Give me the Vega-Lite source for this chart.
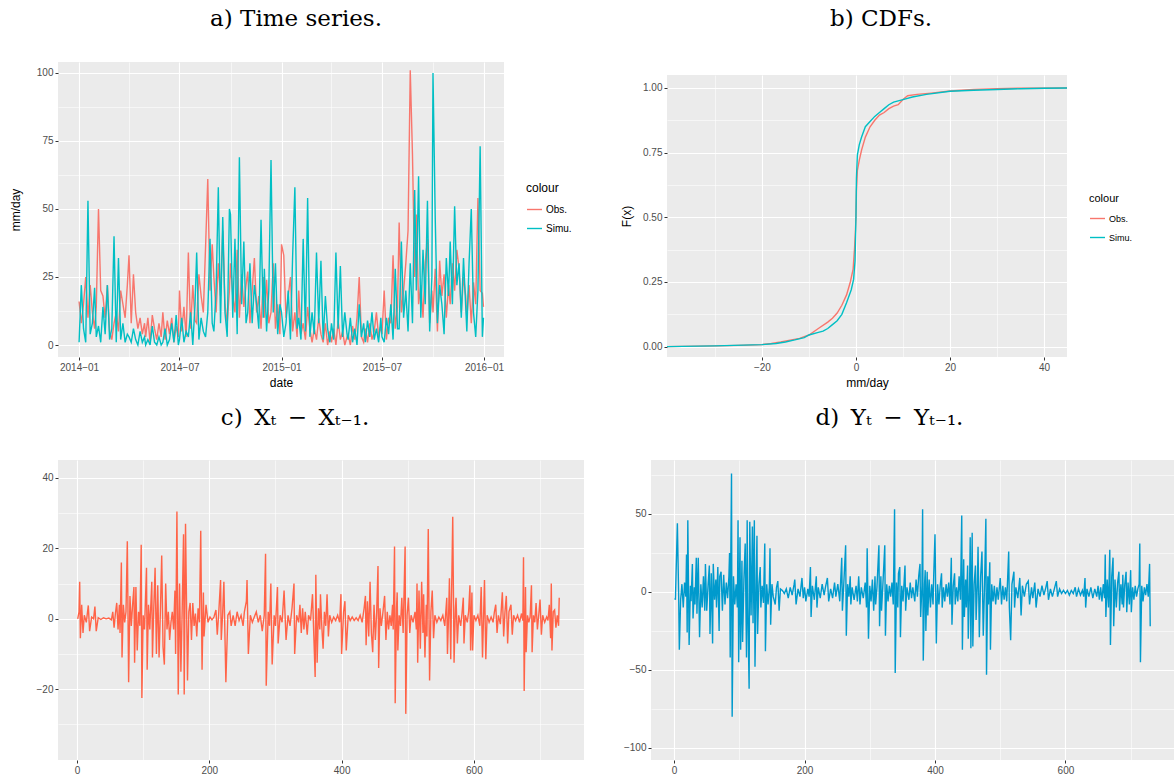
{
"$schema": "https://vega.github.io/schema/vega-lite/v6.json",
"background": "white",
"padding": {"left": 9, "top": 1, "right": 0, "bottom": 0},
"spacing": 19,
"config": {
  "view": {"fill": "#EBEBEB", "stroke": null},
  "axis": {"domain": false, "grid": true, "gridColor": "#FFFFFF", "tickColor": "#333333", "tickSize": 3, "tickWidth": 1,
    "labelColor": "#4D4D4D", "labelFont": "Liberation Sans", "labelFontSize": 10, "labelPadding": 2, "labelFlush": false, "labelOverlap": false,
    "titleFont": "Liberation Sans", "titleFontSize": 12, "titleFontWeight": "normal", "titleColor": "#000000"},
  "title": {"font": "DejaVu Serif", "fontSize": 23, "fontWeight": "normal", "color": "#000000", "anchor": "middle", "frame": "group"},
  "legend": {"titleFont": "Liberation Sans", "titleFontSize": 12, "titleFontWeight": "normal", "titleColor": "#000000",
    "labelFont": "Liberation Sans", "labelFontSize": 10, "labelColor": "#000000", "symbolType": "stroke", "symbolStrokeWidth": 1.5,
    "symbolSize": 225, "rowPadding": 5, "titlePadding": 6, "labelOffset": 3},
  "line": {"strokeWidth": 1.4}
},
"datasets": {
"spacer": [{"k": 0}],
"ts": [
{"d":"2014-01-01","Obs":16,"Simu":1},{"d":"2014-01-05","Obs":8,"Simu":22},{"d":"2014-01-09","Obs":15,"Simu":6},{"d":"2014-01-13","Obs":25,"Simu":1},{"d":"2014-01-17","Obs":10,"Simu":53},{"d":"2014-01-21","Obs":22,"Simu":4},{"d":"2014-01-25","Obs":12,"Simu":8},{"d":"2014-01-29","Obs":6,"Simu":21},
{"d":"2014-02-01","Obs":14,"Simu":3},{"d":"2014-02-05","Obs":50,"Simu":7},{"d":"2014-02-09","Obs":20,"Simu":1},{"d":"2014-02-13","Obs":18,"Simu":14},{"d":"2014-02-17","Obs":10,"Simu":4},{"d":"2014-02-21","Obs":22,"Simu":22},{"d":"2014-02-25","Obs":5,"Simu":2},
{"d":"2014-03-01","Obs":2,"Simu":6},{"d":"2014-03-05","Obs":8,"Simu":40},{"d":"2014-03-09","Obs":12,"Simu":1},{"d":"2014-03-13","Obs":5,"Simu":32},{"d":"2014-03-17","Obs":20,"Simu":2},{"d":"2014-03-21","Obs":15,"Simu":8},{"d":"2014-03-25","Obs":10,"Simu":1},{"d":"2014-03-29","Obs":22,"Simu":4},
{"d":"2014-04-01","Obs":33,"Simu":3},{"d":"2014-04-05","Obs":8,"Simu":1},{"d":"2014-04-09","Obs":26,"Simu":6},{"d":"2014-04-13","Obs":12,"Simu":2},{"d":"2014-04-17","Obs":6,"Simu":0},{"d":"2014-04-21","Obs":10,"Simu":5},{"d":"2014-04-25","Obs":4,"Simu":1},{"d":"2014-04-29","Obs":8,"Simu":3},
{"d":"2014-05-01","Obs":3,"Simu":0},{"d":"2014-05-05","Obs":10,"Simu":2},{"d":"2014-05-09","Obs":1,"Simu":0},{"d":"2014-05-13","Obs":11,"Simu":7},{"d":"2014-05-17","Obs":6,"Simu":1},{"d":"2014-05-21","Obs":2,"Simu":0},{"d":"2014-05-25","Obs":8,"Simu":3},{"d":"2014-05-29","Obs":3,"Simu":0},
{"d":"2014-06-01","Obs":12,"Simu":1},{"d":"2014-06-05","Obs":2,"Simu":6},{"d":"2014-06-09","Obs":9,"Simu":0},{"d":"2014-06-13","Obs":4,"Simu":2},{"d":"2014-06-17","Obs":10,"Simu":8},{"d":"2014-06-21","Obs":1,"Simu":1},{"d":"2014-06-25","Obs":7,"Simu":11},{"d":"2014-06-29","Obs":3,"Simu":0},
{"d":"2014-07-01","Obs":20,"Simu":2},{"d":"2014-07-05","Obs":5,"Simu":10},{"d":"2014-07-09","Obs":14,"Simu":1},{"d":"2014-07-13","Obs":3,"Simu":5},{"d":"2014-07-17","Obs":34,"Simu":3},{"d":"2014-07-21","Obs":6,"Simu":12},{"d":"2014-07-25","Obs":22,"Simu":0},{"d":"2014-07-29","Obs":9,"Simu":15},
{"d":"2014-08-01","Obs":8,"Simu":34},{"d":"2014-08-05","Obs":26,"Simu":2},{"d":"2014-08-09","Obs":18,"Simu":10},{"d":"2014-08-13","Obs":12,"Simu":5},{"d":"2014-08-17","Obs":36,"Simu":3},{"d":"2014-08-21","Obs":61,"Simu":12},{"d":"2014-08-25","Obs":20,"Simu":39},{"d":"2014-08-29","Obs":37,"Simu":8},
{"d":"2014-09-01","Obs":25,"Simu":5},{"d":"2014-09-05","Obs":12,"Simu":20},{"d":"2014-09-09","Obs":30,"Simu":58},{"d":"2014-09-13","Obs":18,"Simu":8},{"d":"2014-09-17","Obs":42,"Simu":47},{"d":"2014-09-21","Obs":15,"Simu":12},{"d":"2014-09-25","Obs":8,"Simu":3},{"d":"2014-09-29","Obs":20,"Simu":50},
{"d":"2014-10-01","Obs":30,"Simu":48},{"d":"2014-10-05","Obs":18,"Simu":10},{"d":"2014-10-09","Obs":12,"Simu":39},{"d":"2014-10-13","Obs":35,"Simu":4},{"d":"2014-10-17","Obs":10,"Simu":69},{"d":"2014-10-21","Obs":26,"Simu":15},{"d":"2014-10-25","Obs":14,"Simu":38},{"d":"2014-10-29","Obs":22,"Simu":8},
{"d":"2014-11-01","Obs":27,"Simu":12},{"d":"2014-11-05","Obs":8,"Simu":30},{"d":"2014-11-09","Obs":20,"Simu":8},{"d":"2014-11-13","Obs":32,"Simu":22},{"d":"2014-11-17","Obs":12,"Simu":15},{"d":"2014-11-21","Obs":18,"Simu":6},{"d":"2014-11-25","Obs":6,"Simu":46},{"d":"2014-11-29","Obs":25,"Simu":10},
{"d":"2014-12-01","Obs":10,"Simu":28},{"d":"2014-12-05","Obs":24,"Simu":5},{"d":"2014-12-09","Obs":8,"Simu":20},{"d":"2014-12-13","Obs":12,"Simu":68},{"d":"2014-12-17","Obs":30,"Simu":12},{"d":"2014-12-21","Obs":6,"Simu":30},{"d":"2014-12-25","Obs":15,"Simu":4},{"d":"2014-12-29","Obs":4,"Simu":15},
{"d":"2015-01-01","Obs":37,"Simu":12},{"d":"2015-01-05","Obs":33,"Simu":3},{"d":"2015-01-09","Obs":10,"Simu":8},{"d":"2015-01-13","Obs":18,"Simu":20},{"d":"2015-01-17","Obs":25,"Simu":2},{"d":"2015-01-21","Obs":5,"Simu":33},{"d":"2015-01-25","Obs":12,"Simu":58},{"d":"2015-01-29","Obs":3,"Simu":6},
{"d":"2015-02-01","Obs":20,"Simu":10},{"d":"2015-02-05","Obs":4,"Simu":2},{"d":"2015-02-09","Obs":8,"Simu":39},{"d":"2015-02-13","Obs":2,"Simu":5},{"d":"2015-02-17","Obs":14,"Simu":54},{"d":"2015-02-21","Obs":6,"Simu":3},{"d":"2015-02-25","Obs":1,"Simu":12},
{"d":"2015-03-01","Obs":6,"Simu":4},{"d":"2015-03-05","Obs":2,"Simu":34},{"d":"2015-03-09","Obs":10,"Simu":8},{"d":"2015-03-13","Obs":4,"Simu":31},{"d":"2015-03-17","Obs":1,"Simu":2},{"d":"2015-03-21","Obs":8,"Simu":18},{"d":"2015-03-25","Obs":0,"Simu":6},{"d":"2015-03-29","Obs":5,"Simu":1},
{"d":"2015-04-01","Obs":1,"Simu":8},{"d":"2015-04-05","Obs":6,"Simu":2},{"d":"2015-04-09","Obs":0,"Simu":34},{"d":"2015-04-13","Obs":9,"Simu":6},{"d":"2015-04-17","Obs":2,"Simu":29},{"d":"2015-04-21","Obs":5,"Simu":3},{"d":"2015-04-25","Obs":0,"Simu":12},{"d":"2015-04-29","Obs":3,"Simu":4},
{"d":"2015-05-01","Obs":4,"Simu":2},{"d":"2015-05-05","Obs":0,"Simu":10},{"d":"2015-05-09","Obs":7,"Simu":1},{"d":"2015-05-13","Obs":2,"Simu":6},{"d":"2015-05-17","Obs":10,"Simu":0},{"d":"2015-05-21","Obs":25,"Simu":15},{"d":"2015-05-25","Obs":3,"Simu":3},{"d":"2015-05-29","Obs":1,"Simu":8},
{"d":"2015-06-01","Obs":6,"Simu":1},{"d":"2015-06-05","Obs":1,"Simu":9},{"d":"2015-06-09","Obs":8,"Simu":3},{"d":"2015-06-13","Obs":2,"Simu":12},{"d":"2015-06-17","Obs":5,"Simu":2},{"d":"2015-06-21","Obs":12,"Simu":6},{"d":"2015-06-25","Obs":3,"Simu":1},{"d":"2015-06-29","Obs":7,"Simu":10},
{"d":"2015-07-01","Obs":4,"Simu":3},{"d":"2015-07-05","Obs":20,"Simu":1},{"d":"2015-07-09","Obs":2,"Simu":10},{"d":"2015-07-13","Obs":10,"Simu":4},{"d":"2015-07-17","Obs":8,"Simu":15},{"d":"2015-07-21","Obs":33,"Simu":2},{"d":"2015-07-25","Obs":6,"Simu":28},{"d":"2015-07-29","Obs":14,"Simu":6},
{"d":"2015-08-01","Obs":45,"Simu":6},{"d":"2015-08-05","Obs":12,"Simu":38},{"d":"2015-08-09","Obs":20,"Simu":10},{"d":"2015-08-13","Obs":30,"Simu":20},{"d":"2015-08-17","Obs":42,"Simu":5},{"d":"2015-08-21","Obs":101,"Simu":30},{"d":"2015-08-25","Obs":70,"Simu":8},{"d":"2015-08-29","Obs":25,"Simu":57},
{"d":"2015-09-01","Obs":48,"Simu":20},{"d":"2015-09-05","Obs":15,"Simu":62},{"d":"2015-09-09","Obs":22,"Simu":10},{"d":"2015-09-13","Obs":10,"Simu":35},{"d":"2015-09-17","Obs":30,"Simu":15},{"d":"2015-09-21","Obs":39,"Simu":53},{"d":"2015-09-25","Obs":8,"Simu":5},{"d":"2015-09-29","Obs":20,"Simu":25},
{"d":"2015-10-01","Obs":12,"Simu":100},{"d":"2015-10-05","Obs":28,"Simu":47},{"d":"2015-10-09","Obs":5,"Simu":8},{"d":"2015-10-13","Obs":31,"Simu":22},{"d":"2015-10-17","Obs":18,"Simu":15},{"d":"2015-10-21","Obs":26,"Simu":4},{"d":"2015-10-25","Obs":10,"Simu":32},{"d":"2015-10-29","Obs":22,"Simu":18},
{"d":"2015-11-01","Obs":15,"Simu":38},{"d":"2015-11-05","Obs":30,"Simu":15},{"d":"2015-11-09","Obs":20,"Simu":51},{"d":"2015-11-13","Obs":35,"Simu":22},{"d":"2015-11-17","Obs":28,"Simu":30},{"d":"2015-11-21","Obs":12,"Simu":10},{"d":"2015-11-25","Obs":25,"Simu":32},{"d":"2015-11-29","Obs":18,"Simu":14},
{"d":"2015-12-01","Obs":10,"Simu":5},{"d":"2015-12-05","Obs":22,"Simu":30},{"d":"2015-12-09","Obs":8,"Simu":50},{"d":"2015-12-13","Obs":23,"Simu":12},{"d":"2015-12-17","Obs":15,"Simu":3},{"d":"2015-12-21","Obs":54,"Simu":20},{"d":"2015-12-25","Obs":20,"Simu":73},{"d":"2015-12-29","Obs":19,"Simu":3},{"d":"2015-12-31","Obs":14,"Simu":10}
],
"cdf": [
{"colour":"Obs","x":-40.2,"F":0},{"colour":"Obs","x":-30,"F":0.003},{"colour":"Obs","x":-25,"F":0.005},{"colour":"Obs","x":-20,"F":0.008},{"colour":"Obs","x":-18,"F":0.012},{"colour":"Obs","x":-16,"F":0.018},{"colour":"Obs","x":-14,"F":0.025},{"colour":"Obs","x":-12,"F":0.032},{"colour":"Obs","x":-10,"F":0.045},{"colour":"Obs","x":-8,"F":0.07},{"colour":"Obs","x":-6,"F":0.095},{"colour":"Obs","x":-5,"F":0.11},{"colour":"Obs","x":-4,"F":0.13},{"colour":"Obs","x":-3,"F":0.16},{"colour":"Obs","x":-2,"F":0.2},{"colour":"Obs","x":-1.2,"F":0.25},{"colour":"Obs","x":-0.6,"F":0.3},{"colour":"Obs","x":-0.3,"F":0.38},{"colour":"Obs","x":-0.1,"F":0.45},{"colour":"Obs","x":0,"F":0.5},{"colour":"Obs","x":0.1,"F":0.6},{"colour":"Obs","x":0.3,"F":0.68},{"colour":"Obs","x":0.7,"F":0.72},{"colour":"Obs","x":1.2,"F":0.76},{"colour":"Obs","x":2,"F":0.81},{"colour":"Obs","x":3,"F":0.85},{"colour":"Obs","x":4,"F":0.875},{"colour":"Obs","x":5,"F":0.895},{"colour":"Obs","x":6,"F":0.905},{"colour":"Obs","x":7,"F":0.92},{"colour":"Obs","x":8,"F":0.93},{"colour":"Obs","x":9,"F":0.935},{"colour":"Obs","x":10,"F":0.955},{"colour":"Obs","x":11,"F":0.97},{"colour":"Obs","x":13,"F":0.975},{"colour":"Obs","x":16,"F":0.98},{"colour":"Obs","x":20,"F":0.988},{"colour":"Obs","x":25,"F":0.994},{"colour":"Obs","x":30,"F":0.997},{"colour":"Obs","x":35,"F":0.999},{"colour":"Obs","x":44.9,"F":1},
{"colour":"Simu","x":-40.2,"F":0},{"colour":"Simu","x":-30,"F":0.003},{"colour":"Simu","x":-20,"F":0.008},{"colour":"Simu","x":-17,"F":0.012},{"colour":"Simu","x":-15,"F":0.018},{"colour":"Simu","x":-13,"F":0.026},{"colour":"Simu","x":-11,"F":0.035},{"colour":"Simu","x":-10,"F":0.045},{"colour":"Simu","x":-8,"F":0.055},{"colour":"Simu","x":-7,"F":0.06},{"colour":"Simu","x":-6,"F":0.07},{"colour":"Simu","x":-5,"F":0.085},{"colour":"Simu","x":-4,"F":0.1},{"colour":"Simu","x":-3,"F":0.125},{"colour":"Simu","x":-2,"F":0.17},{"colour":"Simu","x":-1,"F":0.22},{"colour":"Simu","x":-0.5,"F":0.26},{"colour":"Simu","x":-0.2,"F":0.33},{"colour":"Simu","x":0,"F":0.5},{"colour":"Simu","x":0.1,"F":0.65},{"colour":"Simu","x":0.3,"F":0.74},{"colour":"Simu","x":0.7,"F":0.78},{"colour":"Simu","x":1.2,"F":0.81},{"colour":"Simu","x":2,"F":0.85},{"colour":"Simu","x":3,"F":0.87},{"colour":"Simu","x":4,"F":0.89},{"colour":"Simu","x":5,"F":0.905},{"colour":"Simu","x":6,"F":0.92},{"colour":"Simu","x":7,"F":0.935},{"colour":"Simu","x":8,"F":0.945},{"colour":"Simu","x":10,"F":0.955},{"colour":"Simu","x":12,"F":0.965},{"colour":"Simu","x":15,"F":0.975},{"colour":"Simu","x":20,"F":0.987},{"colour":"Simu","x":25,"F":0.991},{"colour":"Simu","x":30,"F":0.994},{"colour":"Simu","x":35,"F":0.997},{"colour":"Simu","x":40,"F":0.999},{"colour":"Simu","x":44.9,"F":1}
],
"dx": [
{"i":1,"v":0},{"i":3,"v":2},{"i":4,"v":10.5},{"i":5,"v":-5.5},{"i":7,"v":4},{"i":9,"v":-4},{"i":11,"v":1},{"i":14,"v":-1},{"i":17,"v":3.8},{"i":19,"v":-3.5},{"i":22,"v":0.5},{"i":25,"v":0},{"i":27,"v":3.5},{"i":29,"v":-3.5},{"i":32,"v":0.3},{"i":36,"v":-0.2},{"i":40,"v":0.3},{"i":44,"v":0},{"i":48,"v":0.2},{"i":52,"v":-0.3},{"i":54,"v":2},{"i":56,"v":-2.5},{"i":58,"v":1.5},{"i":60,"v":4.5},{"i":62,"v":-3},{"i":64,"v":4},{"i":65,"v":-4},{"i":67,"v":16},{"i":68,"v":-11},{"i":70,"v":4},{"i":72,"v":-1},{"i":74,"v":2},{"i":76,"v":22},{"i":78,"v":-18},{"i":80,"v":6.5},{"i":82,"v":-2},{"i":84,"v":4},{"i":86,"v":9},{"i":87,"v":-12.5},{"i":89,"v":9},{"i":91,"v":-9},{"i":93,"v":2},{"i":95,"v":-2},{"i":97,"v":21},{"i":98,"v":-22.5},{"i":100,"v":1},{"i":102,"v":-3},{"i":105,"v":14.5},{"i":106,"v":-14.5},{"i":108,"v":4},{"i":110,"v":-3},{"i":113,"v":10.5},{"i":114,"v":-11},{"i":116,"v":3},{"i":118,"v":14.5},{"i":120,"v":-10},{"i":122,"v":9.5},{"i":124,"v":-11},{"i":126,"v":2},{"i":128,"v":18},{"i":130,"v":-8},{"i":132,"v":-13},{"i":134,"v":10},{"i":136,"v":-3},{"i":138,"v":2},{"i":140,"v":-6},{"i":142,"v":-1},{"i":144,"v":2},{"i":146,"v":-3},{"i":148,"v":8},{"i":149,"v":-10},{"i":151,"v":30.5},{"i":153,"v":-21.5},{"i":155,"v":10},{"i":157,"v":-15},{"i":159,"v":3},{"i":161,"v":24},{"i":162,"v":-21.5},{"i":164,"v":27},{"i":167,"v":-17.5},{"i":169,"v":2},{"i":171,"v":4.5},{"i":173,"v":-6},{"i":175,"v":4.5},{"i":177,"v":-2},{"i":179,"v":1.5},{"i":181,"v":-5},{"i":183,"v":3},{"i":185,"v":-1},{"i":187,"v":25},{"i":189,"v":-14.5},{"i":191,"v":7.5},{"i":192,"v":-5},{"i":195,"v":4},{"i":198,"v":-1},
{"i":201,"v":0.5},{"i":204,"v":-0.3},{"i":207,"v":0.5},{"i":210,"v":2.5},{"i":212,"v":-4.5},{"i":214,"v":1},{"i":217,"v":11},{"i":218,"v":-6},{"i":220,"v":1},{"i":222,"v":10.5},{"i":225,"v":-18},{"i":228,"v":1},{"i":231,"v":2},{"i":233,"v":-2},{"i":236,"v":1},{"i":239,"v":-2},{"i":242,"v":2},{"i":245,"v":-0.5},{"i":248,"v":1},{"i":251,"v":-2},{"i":253,"v":2},{"i":256,"v":5},{"i":257,"v":11},{"i":259,"v":-10},{"i":262,"v":1},{"i":265,"v":-1},{"i":268,"v":0.5},{"i":271,"v":2},{"i":274,"v":-1},{"i":277,"v":1},{"i":280,"v":-3.5},{"i":283,"v":1},{"i":285,"v":18.5},{"i":286,"v":-19},{"i":289,"v":2},{"i":291,"v":-2},{"i":293,"v":10},{"i":295,"v":-13},{"i":298,"v":1},{"i":300,"v":-2},{"i":303,"v":9},{"i":304,"v":-7},{"i":307,"v":1},{"i":310,"v":-1},{"i":313,"v":8},{"i":316,"v":-6},{"i":319,"v":1},{"i":322,"v":-2},{"i":325,"v":3},{"i":328,"v":10},{"i":329,"v":-10},{"i":332,"v":1},{"i":335,"v":-1},{"i":337,"v":4},{"i":339,"v":-4},{"i":341,"v":3},{"i":343,"v":-3},{"i":345,"v":2},{"i":348,"v":-4.5},{"i":350,"v":1},{"i":353,"v":-0.5},{"i":356,"v":7},{"i":358,"v":-5},{"i":360,"v":-16.5},{"i":361,"v":12.5},{"i":363,"v":-12.5},{"i":365,"v":3},{"i":367,"v":-3},{"i":368,"v":7},{"i":370,"v":-2},{"i":372,"v":-8.5},{"i":374,"v":2},{"i":376,"v":-2},{"i":378,"v":7},{"i":380,"v":-5},{"i":382,"v":1},{"i":385,"v":-1},{"i":388,"v":0.5},{"i":391,"v":-0.5},{"i":394,"v":1},{"i":397,"v":-1},{"i":399,"v":7},{"i":400,"v":-10},
{"i":403,"v":2},{"i":405,"v":5},{"i":407,"v":-9},{"i":410,"v":1},{"i":413,"v":-0.5},{"i":416,"v":0.5},{"i":419,"v":-0.5},{"i":422,"v":0.3},{"i":425,"v":-0.5},{"i":428,"v":1},{"i":431,"v":-1},{"i":434,"v":3},{"i":436,"v":6.5},{"i":437,"v":-7.5},{"i":439,"v":5},{"i":441,"v":-5},{"i":443,"v":10.5},{"i":445,"v":-4},{"i":447,"v":-9.5},{"i":449,"v":4},{"i":451,"v":-6},{"i":453,"v":2},{"i":455,"v":15},{"i":456,"v":-14},{"i":458,"v":3},{"i":460,"v":-2},{"i":462,"v":1},{"i":465,"v":6.5},{"i":467,"v":-6},{"i":469,"v":2},{"i":471,"v":-3},{"i":473,"v":1},{"i":475,"v":-2},{"i":477,"v":4},{"i":478,"v":-3},{"i":480,"v":20.5},{"i":481,"v":-24},{"i":483,"v":3},{"i":484,"v":7.5},{"i":485,"v":-9},{"i":487,"v":1},{"i":489,"v":-2},{"i":491,"v":6},{"i":493,"v":-4},{"i":496,"v":20.5},{"i":497,"v":-27},{"i":499,"v":1},{"i":501,"v":6},{"i":503,"v":-4},{"i":505,"v":1},{"i":508,"v":-1},{"i":511,"v":2},{"i":513,"v":-3},{"i":514,"v":10},{"i":515,"v":-12.5},{"i":517,"v":8},{"i":519,"v":-8.5},{"i":521,"v":10.5},{"i":523,"v":-4},{"i":524,"v":7},{"i":526,"v":-11},{"i":528,"v":4},{"i":529,"v":-5},{"i":531,"v":25.5},{"i":533,"v":-17.5},{"i":535,"v":2},{"i":537,"v":8},{"i":539,"v":-5.5},{"i":541,"v":1},{"i":544,"v":-1},{"i":547,"v":0.5},{"i":550,"v":-0.5},{"i":553,"v":1},{"i":556,"v":-2},{"i":559,"v":6},{"i":560,"v":-10},{"i":562,"v":3},{"i":563,"v":11.5},{"i":565,"v":-11.5},{"i":566,"v":4},{"i":568,"v":29},{"i":570,"v":-12.5},{"i":572,"v":3},{"i":573,"v":6},{"i":575,"v":-7},{"i":577,"v":1},{"i":580,"v":-2},{"i":582,"v":1.5},{"i":584,"v":6},{"i":585,"v":-7},{"i":587,"v":1},{"i":590,"v":-1},{"i":592,"v":2},{"i":594,"v":9.5},{"i":595,"v":-9},{"i":597,"v":7.5},{"i":598,"v":-9},
{"i":600,"v":1},{"i":603,"v":-0.5},{"i":606,"v":1},{"i":609,"v":-2},{"i":611,"v":9},{"i":613,"v":-11},{"i":616,"v":11},{"i":618,"v":-11.5},{"i":620,"v":1},{"i":623,"v":-1},{"i":626,"v":0.5},{"i":629,"v":-1},{"i":631,"v":2},{"i":633,"v":4},{"i":635,"v":-4},{"i":637,"v":1},{"i":640,"v":-1.5},{"i":643,"v":7.5},{"i":645,"v":-5},{"i":647,"v":2},{"i":649,"v":6.5},{"i":651,"v":-7},{"i":653,"v":2},{"i":656,"v":4},{"i":658,"v":-4.5},{"i":660,"v":1},{"i":663,"v":-0.5},{"i":666,"v":1},{"i":669,"v":-1},{"i":672,"v":1.5},{"i":674,"v":-0.5},{"i":675,"v":17.5},{"i":676,"v":-20.5},{"i":678,"v":9},{"i":679,"v":-9.5},{"i":681,"v":1},{"i":683,"v":-1},{"i":685,"v":0.5},{"i":687,"v":9.5},{"i":688,"v":-9.5},{"i":690,"v":1},{"i":692,"v":-1},{"i":694,"v":4.5},{"i":696,"v":-3},{"i":698,"v":1},{"i":700,"v":5.5},{"i":702,"v":-4.5},{"i":704,"v":1},{"i":707,"v":-1},{"i":710,"v":0.5},{"i":712,"v":-0.5},{"i":714,"v":4},{"i":716,"v":-5.5},{"i":717,"v":10},{"i":718,"v":-9},{"i":720,"v":2},{"i":722,"v":2.5},{"i":724,"v":-2.5},{"i":726,"v":1},{"i":728,"v":-2},{"i":729,"v":6}
],
"dy": [
{"i":1,"v":-4},{"i":2,"v":-5},{"i":3,"v":12},{"i":5,"v":44},{"i":7,"v":-3},{"i":8,"v":-37},{"i":10,"v":-5},{"i":12,"v":5},{"i":14,"v":-10},{"i":16,"v":6},{"i":18,"v":-3},{"i":19,"v":24},{"i":20,"v":-26},{"i":21,"v":46},{"i":23,"v":-34},{"i":25,"v":4},{"i":26,"v":-6},{"i":28,"v":18},{"i":29,"v":-17},{"i":31,"v":3},{"i":32,"v":-8},{"i":34,"v":22},{"i":35,"v":-14},{"i":37,"v":22},{"i":39,"v":-29},{"i":41,"v":5},{"i":43,"v":-10},{"i":45,"v":10},{"i":47,"v":-12},{"i":48,"v":18},{"i":50,"v":-12},{"i":52,"v":4},{"i":54,"v":17},{"i":55,"v":-27},{"i":57,"v":12},{"i":59,"v":-33},{"i":60,"v":18},{"i":62,"v":-5},{"i":64,"v":8},{"i":65,"v":-10},{"i":67,"v":16},{"i":69,"v":-25},{"i":70,"v":10},{"i":72,"v":13},{"i":74,"v":-12},{"i":76,"v":11},{"i":78,"v":-8},{"i":80,"v":6},{"i":82,"v":-4},{"i":84,"v":10},{"i":85,"v":25},{"i":86,"v":-42},{"i":87,"v":27},{"i":88,"v":76},{"i":89,"v":-80},{"i":91,"v":10},{"i":93,"v":-8},{"i":95,"v":5},{"i":97,"v":-10},{"i":98,"v":46},{"i":99,"v":-45},{"i":101,"v":35},{"i":102,"v":-37},{"i":104,"v":20},{"i":105,"v":-32},{"i":107,"v":8},{"i":109,"v":31},{"i":111,"v":-42},{"i":112,"v":46},{"i":113,"v":-10},{"i":115,"v":-62},{"i":116,"v":45},{"i":118,"v":-15},{"i":120,"v":42},{"i":121,"v":-20},{"i":122,"v":15},{"i":123,"v":46},{"i":124,"v":-48},{"i":126,"v":10},{"i":127,"v":36},{"i":128,"v":-27},{"i":130,"v":5},{"i":132,"v":16},{"i":133,"v":-10},{"i":135,"v":4},{"i":137,"v":-7},{"i":139,"v":31},{"i":140,"v":-38},{"i":142,"v":5},{"i":144,"v":-8},{"i":146,"v":3},{"i":147,"v":28},{"i":148,"v":-21},{"i":150,"v":5},{"i":152,"v":-3},{"i":155,"v":-8},{"i":157,"v":3},{"i":159,"v":7},{"i":161,"v":-12},{"i":163,"v":2},{"i":166,"v":1},{"i":169,"v":-1},{"i":172,"v":2},{"i":175,"v":-4},{"i":178,"v":3},{"i":181,"v":-2},{"i":184,"v":5},{"i":185,"v":8},{"i":187,"v":-8},{"i":190,"v":2},{"i":193,"v":-3},{"i":196,"v":9},{"i":198,"v":-4},
{"i":200,"v":3},{"i":202,"v":-6},{"i":205,"v":2},{"i":207,"v":-3},{"i":209,"v":16},{"i":210,"v":-16},{"i":212,"v":4},{"i":215,"v":-5},{"i":218,"v":10},{"i":219,"v":-10},{"i":221,"v":3},{"i":224,"v":-4},{"i":227,"v":5},{"i":230,"v":-2},{"i":232,"v":3},{"i":235,"v":9},{"i":237,"v":-6},{"i":240,"v":2},{"i":243,"v":-4},{"i":246,"v":6},{"i":248,"v":-3},{"i":251,"v":5},{"i":254,"v":-6},{"i":257,"v":22},{"i":258,"v":-12},{"i":260,"v":4},{"i":263,"v":30},{"i":264,"v":-28},{"i":266,"v":5},{"i":268,"v":-3},{"i":270,"v":10},{"i":271,"v":-8},{"i":273,"v":3},{"i":276,"v":-5},{"i":279,"v":4},{"i":281,"v":-6},{"i":283,"v":10},{"i":285,"v":-8},{"i":287,"v":3},{"i":290,"v":-4},{"i":293,"v":6},{"i":295,"v":-10},{"i":296,"v":28},{"i":298,"v":-30},{"i":300,"v":4},{"i":302,"v":-6},{"i":304,"v":8},{"i":306,"v":-12},{"i":308,"v":10},{"i":309,"v":-8},{"i":311,"v":3},{"i":314,"v":30},{"i":315,"v":-22},{"i":317,"v":10},{"i":318,"v":-12},{"i":320,"v":4},{"i":323,"v":30},{"i":324,"v":-28},{"i":326,"v":5},{"i":328,"v":-6},{"i":330,"v":4},{"i":332,"v":-3},{"i":334,"v":6},{"i":336,"v":-8},{"i":338,"v":53},{"i":339,"v":-52},{"i":341,"v":6},{"i":343,"v":-10},{"i":344,"v":12},{"i":346,"v":16},{"i":347,"v":-29},{"i":349,"v":4},{"i":351,"v":-6},{"i":354,"v":17},{"i":355,"v":-12},{"i":357,"v":3},{"i":360,"v":-5},{"i":362,"v":6},{"i":364,"v":-4},{"i":366,"v":3},{"i":369,"v":-6},{"i":371,"v":8},{"i":373,"v":-3},{"i":375,"v":10},{"i":377,"v":18},{"i":378,"v":-16},{"i":380,"v":4},{"i":381,"v":53},{"i":382,"v":-44},{"i":384,"v":5},{"i":385,"v":14},{"i":386,"v":-25},{"i":388,"v":13},{"i":389,"v":-15},{"i":391,"v":8},{"i":393,"v":-10},{"i":395,"v":5},{"i":397,"v":-8},{"i":398,"v":10},
{"i":400,"v":37},{"i":402,"v":-33},{"i":404,"v":5},{"i":406,"v":-8},{"i":408,"v":4},{"i":410,"v":12},{"i":411,"v":-10},{"i":413,"v":3},{"i":415,"v":-6},{"i":417,"v":5},{"i":419,"v":-3},{"i":421,"v":6},{"i":423,"v":-8},{"i":425,"v":22},{"i":426,"v":-21},{"i":428,"v":4},{"i":430,"v":12},{"i":431,"v":-8},{"i":433,"v":3},{"i":435,"v":-6},{"i":437,"v":10},{"i":439,"v":-5},{"i":441,"v":49},{"i":442,"v":-37},{"i":444,"v":21},{"i":445,"v":-16},{"i":447,"v":8},{"i":448,"v":-10},{"i":450,"v":17},{"i":451,"v":-30},{"i":453,"v":5},{"i":454,"v":35},{"i":455,"v":-36},{"i":457,"v":38},{"i":458,"v":-35},{"i":460,"v":5},{"i":462,"v":17},{"i":463,"v":-18},{"i":465,"v":6},{"i":466,"v":29},{"i":468,"v":-29},{"i":470,"v":10},{"i":472,"v":26},{"i":474,"v":-28},{"i":476,"v":5},{"i":478,"v":47},{"i":479,"v":-53},{"i":481,"v":10},{"i":482,"v":-8},{"i":484,"v":19},{"i":485,"v":-37},{"i":487,"v":5},{"i":489,"v":-6},{"i":491,"v":4},{"i":493,"v":-8},{"i":495,"v":3},{"i":497,"v":-5},{"i":500,"v":9},{"i":502,"v":-8},{"i":504,"v":4},{"i":506,"v":-5},{"i":508,"v":3},{"i":510,"v":-6},{"i":513,"v":26},{"i":514,"v":-10},{"i":516,"v":-31},{"i":518,"v":5},{"i":521,"v":13},{"i":522,"v":-10},{"i":524,"v":3},{"i":527,"v":-4},{"i":530,"v":9},{"i":532,"v":-15},{"i":534,"v":4},{"i":537,"v":-3},{"i":540,"v":5},{"i":543,"v":7},{"i":545,"v":-8},{"i":548,"v":3},{"i":550,"v":-4},{"i":553,"v":6},{"i":555,"v":-10},{"i":558,"v":2},{"i":561,"v":-3},{"i":564,"v":4},{"i":567,"v":-2},{"i":570,"v":3},{"i":572,"v":7},{"i":574,"v":-5},{"i":577,"v":2},{"i":580,"v":-3},{"i":583,"v":2},{"i":586,"v":7},{"i":588,"v":-3},{"i":591,"v":2},{"i":594,"v":-1},{"i":597,"v":1},
{"i":600,"v":-1},{"i":603,"v":1},{"i":606,"v":-2},{"i":609,"v":1},{"i":612,"v":-1},{"i":615,"v":3},{"i":617,"v":-3},{"i":620,"v":2},{"i":623,"v":-2},{"i":626,"v":1},{"i":628,"v":-3},{"i":630,"v":9},{"i":631,"v":-10},{"i":633,"v":2},{"i":636,"v":-3},{"i":639,"v":3},{"i":642,"v":-4},{"i":645,"v":2},{"i":648,"v":-3},{"i":650,"v":4},{"i":652,"v":-5},{"i":654,"v":3},{"i":656,"v":-6},{"i":658,"v":5},{"i":660,"v":-4},{"i":661,"v":24},{"i":662,"v":-16},{"i":664,"v":8},{"i":666,"v":-10},{"i":668,"v":27},{"i":669,"v":-34},{"i":671,"v":10},{"i":673,"v":22},{"i":674,"v":-22},{"i":676,"v":8},{"i":678,"v":-10},{"i":680,"v":6},{"i":682,"v":13},{"i":683,"v":-12},{"i":685,"v":5},{"i":687,"v":-8},{"i":688,"v":11},{"i":689,"v":-10},{"i":691,"v":5},{"i":693,"v":13},{"i":694,"v":-13},{"i":696,"v":6},{"i":698,"v":-8},{"i":700,"v":14},{"i":701,"v":-13},{"i":703,"v":3},{"i":705,"v":-5},{"i":707,"v":4},{"i":709,"v":-3},{"i":711,"v":2},{"i":713,"v":5},{"i":714,"v":31},{"i":715,"v":-45},{"i":717,"v":4},{"i":719,"v":-6},{"i":721,"v":3},{"i":723,"v":-2},{"i":725,"v":5},{"i":727,"v":-3},{"i":729,"v":18},{"i":730,"v":-22}
]
},
"vconcat": [
{
 "concat": [
  {"width": 1, "height": 1, "view": {"fill": null, "stroke": null}, "data": {"name": "spacer"}, "mark": {"type": "point", "opacity": 0}, "encoding": {}},
  {"width": 1, "height": 1, "view": {"fill": null, "stroke": null}, "data": {"name": "spacer"}, "mark": {"type": "point", "opacity": 0}, "encoding": {}},
  {
   "width": 446, "height": 295,
   "title": {"text": "a) Time series.", "dx": 15, "offset": 31},
   "data": {"name": "ts"},
   "transform": [{"fold": ["Obs", "Simu"], "as": ["colour", "v"]}],
   "mark": {"type": "line", "clip": true},
   "encoding": {
    "x": {"field": "d", "type": "temporal", "title": "date",
      "scale": {"type": "utc", "domain": [{"year": 2013, "month": 11, "date": 24, "utc": true}, {"year": 2016, "month": 2, "date": 6, "utc": true}]},
      "axis": {"values": [{"year": 2014, "month": 1, "date": 1, "utc": true}, {"year": 2014, "month": 4, "date": 1, "utc": true}, {"year": 2014, "month": 7, "date": 1, "utc": true}, {"year": 2014, "month": 10, "date": 1, "utc": true}, {"year": 2015, "month": 1, "date": 1, "utc": true}, {"year": 2015, "month": 4, "date": 1, "utc": true}, {"year": 2015, "month": 7, "date": 1, "utc": true}, {"year": 2015, "month": 10, "date": 1, "utc": true}, {"year": 2016, "month": 1, "date": 1, "utc": true}],
        "labelExpr": "utcmonth(datum.value) % 6 === 0 ? utcFormat(datum.value, '%Y\u2212%m') : ''",
        "tickOpacity": {"condition": {"test": "utcmonth(datum.value) % 6 === 0", "value": 1}, "value": 0},
        "gridWidth": {"condition": {"test": "utcmonth(datum.value) % 6 === 0", "value": 1.1}, "value": 0.55},
        "titlePadding": 5}},
    "y": {"field": "v", "type": "quantitative", "title": "mm/day",
      "scale": {"domain": [-4.4, 104], "nice": false, "zero": false},
      "axis": {"values": [0, 12.5, 25, 37.5, 50, 62.5, 75, 87.5, 100],
        "labelExpr": "datum.value % 25 === 0 ? datum.label : ''",
        "tickOpacity": {"condition": {"test": "datum.value % 25 === 0", "value": 1}, "value": 0},
        "gridWidth": {"condition": {"test": "datum.value % 25 === 0", "value": 1.1}, "value": 0.55},
        "minExtent": 30, "maxExtent": 30, "titlePadding": 6}},
    "color": {"field": "colour", "type": "nominal",
      "scale": {"domain": ["Obs", "Simu"], "range": ["#F8766D", "#00BFC4"]},
      "legend": {"title": "colour", "orient": "none", "legendX": 468, "legendY": 121, "labelExpr": "datum.label + '.'"}}
   }
  },
  {
   "width": 400, "height": 282,
   "title": {"text": "b) CDFs.", "dx": 14, "offset": 44},
   "data": {"name": "cdf"},
   "mark": {"type": "line", "clip": true},
   "encoding": {
    "x": {"field": "x", "type": "quantitative", "title": "mm/day",
      "scale": {"domain": [-40.2, 44.9], "nice": false, "zero": false},
      "axis": {"values": [-30, -20, -10, 0, 10, 20, 30, 40],
        "labelExpr": "datum.value % 20 === 0 ? datum.label : ''",
        "tickOpacity": {"condition": {"test": "datum.value % 20 === 0", "value": 1}, "value": 0},
        "gridWidth": {"condition": {"test": "datum.value % 20 === 0", "value": 1.1}, "value": 0.55},
        "titlePadding": 5}},
    "y": {"field": "F", "type": "quantitative", "title": "F(x)",
      "scale": {"domain": [-0.04, 1.05], "nice": false, "zero": false},
      "axis": {"values": [0, 0.125, 0.25, 0.375, 0.5, 0.625, 0.75, 0.875, 1], "format": ".2f",
        "labelExpr": "(datum.value * 4) % 1 === 0 ? datum.label : ''",
        "tickOpacity": {"condition": {"test": "(datum.value * 4) % 1 === 0", "value": 1}, "value": 0},
        "gridWidth": {"condition": {"test": "(datum.value * 4) % 1 === 0", "value": 1.1}, "value": 0.55},
        "minExtent": 28, "maxExtent": 28, "titlePadding": 6}},
    "color": {"field": "colour", "type": "nominal",
      "scale": {"domain": ["Obs", "Simu"], "range": ["#F8766D", "#00BFC4"]},
      "legend": {"title": "colour", "orient": "none", "legendX": 422, "legendY": 118, "titleFontSize": 11, "labelFontSize": 9, "labelExpr": "datum.label + '.'"}}
   }
  }
 ],
 "columns": 2,
 "align": "none",
 "spacing": {"row": 0, "column": 48},
 "resolve": {"scale": {"color": "independent"}, "legend": {"color": "independent"}}
},
{
 "hconcat": [
  {
   "width": 526, "height": 300,
   "title": {"text": "c)\u2002X\u209c\u2002\u2212\u2002X\u209c\u208b\u2081.", "dx": -26, "offset": 30},
   "data": {"name": "dx"},
   "mark": {"type": "line", "clip": true, "color": "#FF6347"},
   "encoding": {
    "x": {"field": "i", "type": "quantitative", "title": null,
      "scale": {"domain": [-28.8, 766.45], "nice": false, "zero": false},
      "axis": {"values": [0, 100, 200, 300, 400, 500, 600, 700],
        "labelExpr": "datum.value % 200 === 0 ? datum.label : ''",
        "tickOpacity": {"condition": {"test": "datum.value % 200 === 0", "value": 1}, "value": 0},
        "gridWidth": {"condition": {"test": "datum.value % 200 === 0", "value": 1.1}, "value": 0.55}}},
    "y": {"field": "v", "type": "quantitative", "title": null,
      "scale": {"domain": [-40.1, 45.1], "nice": false, "zero": false},
      "axis": {"values": [-30, -20, -10, 0, 10, 20, 30, 40],
        "labelExpr": "datum.value % 20 === 0 ? datum.label : ''",
        "tickOpacity": {"condition": {"test": "datum.value % 20 === 0", "value": 1}, "value": 0},
        "gridWidth": {"condition": {"test": "datum.value % 20 === 0", "value": 1.1}, "value": 0.55}}}
   }
  },
  {
   "width": 523, "height": 300,
   "title": {"text": "d)\u2002Y\u209c\u2002\u2212\u2002Y\u209c\u208b\u2081.", "dx": -23, "offset": 30},
   "data": {"name": "dy"},
   "mark": {"type": "line", "clip": true, "color": "#009ACD"},
   "encoding": {
    "x": {"field": "i", "type": "quantitative", "title": null,
      "scale": {"domain": [-35.45, 766.45], "nice": false, "zero": false},
      "axis": {"values": [0, 100, 200, 300, 400, 500, 600, 700],
        "labelExpr": "datum.value % 200 === 0 ? datum.label : ''",
        "tickOpacity": {"condition": {"test": "datum.value % 200 === 0", "value": 1}, "value": 0},
        "gridWidth": {"condition": {"test": "datum.value % 200 === 0", "value": 1.1}, "value": 0.55}}},
    "y": {"field": "v", "type": "quantitative", "title": null,
      "scale": {"domain": [-107.7, 84.6], "nice": false, "zero": false},
      "axis": {"values": [-100, -75, -50, -25, 0, 25, 50, 75],
        "labelExpr": "datum.value % 50 === 0 ? datum.label : ''",
        "tickOpacity": {"condition": {"test": "datum.value % 50 === 0", "value": 1}, "value": 0},
        "gridWidth": {"condition": {"test": "datum.value % 50 === 0", "value": 1.1}, "value": 0.55},
        "minExtent": 40, "maxExtent": 40}}
   }
  }
 ],
 "spacing": 27
}
]
}
